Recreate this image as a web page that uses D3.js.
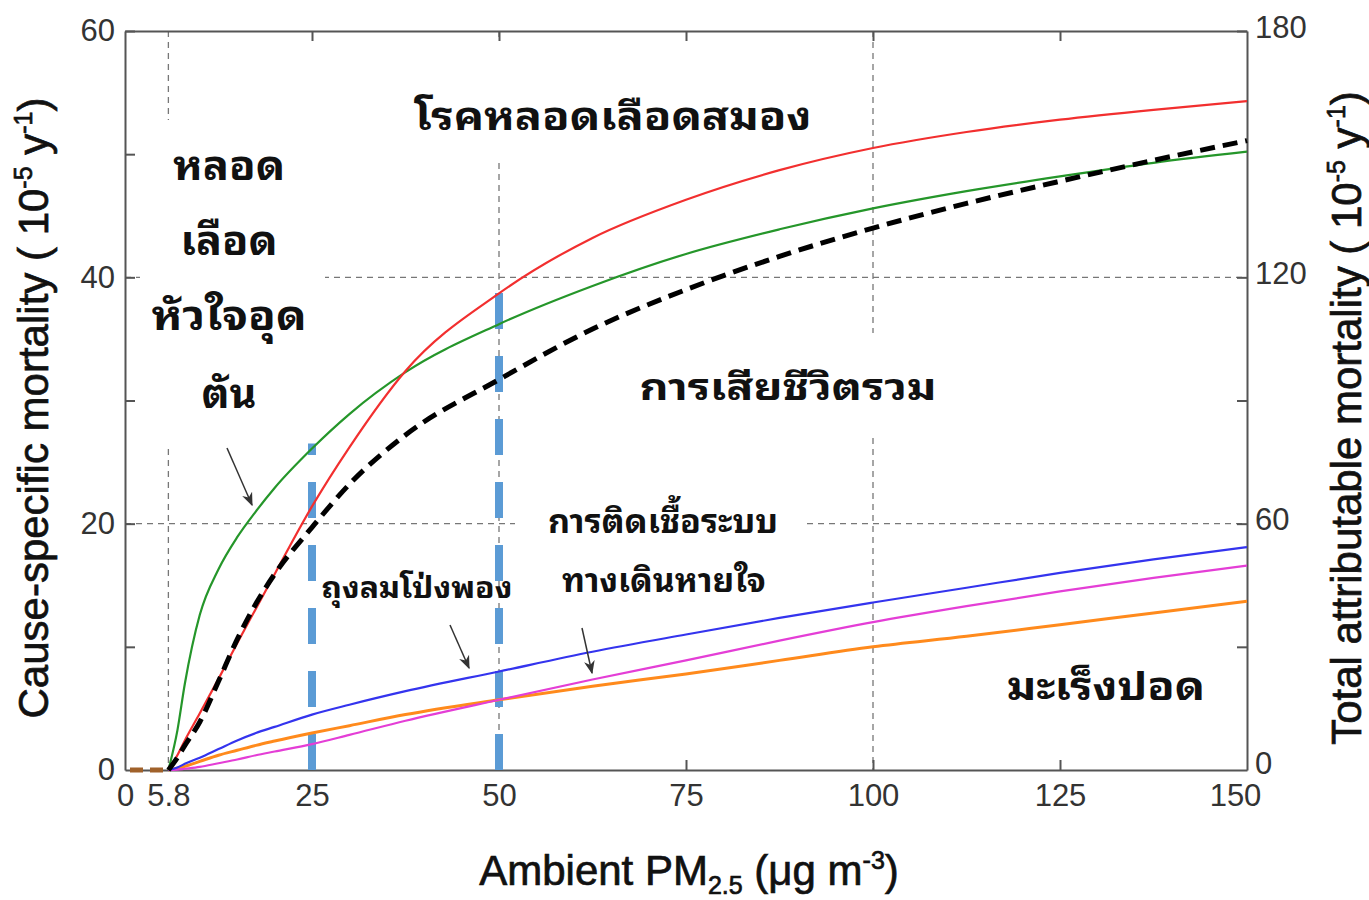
<!DOCTYPE html>
<html>
<head>
<meta charset="utf-8">
<script src="https://cdn.jsdelivr.net/npm/d3@7"></script>
<style>
  body { margin: 0; background: #fff; }
  svg { display: block; }
  .axis text { font-family: "Liberation Sans", Arial, sans-serif; font-size: 31px; fill: #333; }
  .axis path, .axis line { stroke: #555; stroke-width: 2; }
  .title { font-family: "Liberation Sans", Arial, sans-serif; font-size: 42px; fill: #111; stroke: #111; stroke-width: 0.7; }
  .thai { font-family: "Noto Sans Thai Looped", "Loma", "Noto Sans Thai", sans-serif; font-weight: bold; fill: #111; }
</style>
</head>
<body>
<svg id="chart"></svg>
<script>
// PM2.5 concentrations (ug/m3) where the curves were read
const pm = [5.8, 7, 8, 10, 12.5, 15, 17.5, 20, 25, 30, 37.5, 50, 62.5, 75, 87.5, 100, 112.5, 125, 137.5, 150];

// cause-specific mortality (10^-5 / y), left axis
const stroke = [0, 1.2, 2.4, 4.6, 7.4, 10.3, 13.1, 15.9, 21.4, 26.2, 32.4, 38.7, 43.2, 46.3, 48.7, 50.5, 51.8, 52.8, 53.6, 54.3];
const ihd    = [0, 3.2, 7.0, 12.6, 16.3, 18.9, 21.0, 22.9, 26.1, 28.9, 32.3, 36.2, 39.3, 41.9, 43.9, 45.6, 47.0, 48.2, 49.3, 50.2];
const copd   = [0, 0.2, 0.5, 1.0, 1.7, 2.4, 3.0, 3.5, 4.5, 5.3, 6.4, 8.0, 9.6, 11.0, 12.35, 13.6, 14.8, 16.0, 17.1, 18.1];
const lri    = [0, 0.03, 0.1, 0.25, 0.55, 0.85, 1.2, 1.5, 2.1, 2.85, 4.0, 5.7, 7.35, 8.9, 10.5, 12.0, 13.3, 14.5, 15.6, 16.6];
const lungCancer = [0, 0.15, 0.3, 0.7, 1.2, 1.6, 2.0, 2.35, 3.0, 3.6, 4.5, 5.7, 6.8, 7.8, 8.9, 10.0, 10.85, 11.8, 12.75, 13.7];

// total attributable mortality (10^-5 / y), right axis
const total = [0, 3.0, 6.0, 11.7, 21.6, 31.8, 40.5, 47.7, 59.1, 69.6, 81.6, 95.1, 107.4, 117.0, 125.1, 132.0, 138.0, 143.4, 148.5, 153.3];

// tick values
const xTicks = [0, 5.8, 25, 50, 75, 100, 125, 150];
const yTicks = [0, 10, 20, 30, 40, 50, 60];
const yRightTicks = [0, 30, 60, 90, 120, 150, 180];
const markedPm = [25, 50];   // thick blue guides

const width = 1369, height = 900;
const margin = { top: 31, right: 122, bottom: 130, left: 125 };

const svg = d3.select('#chart')
    .attr('width', width)
    .attr('height', height);

const x = d3.scaleLinear()
    .domain([0, 150])
    .range([margin.left, width - margin.right]);

const y = d3.scaleLinear()
    .domain([0, 60])
    .range([height - margin.bottom, margin.top]);

const yRight = d3.scaleLinear()
    .domain([0, 180])
    .range([height - margin.bottom, margin.top]);

// dashed grid
const grid = svg.append('g')
    .attr('stroke', '#777')
    .attr('stroke-width', 1.3)
    .attr('stroke-dasharray', '6,5');

[5.8, 50, 100].forEach(v => {
    grid.append('line')
        .attr('x1', x(v)).attr('x2', x(v))
        .attr('y1', y(60)).attr('y2', y(0));
});
[20, 40].forEach(v => {
    grid.append('line')
        .attr('x1', x(0)).attr('x2', x(150))
        .attr('y1', y(v)).attr('y2', y(v));
});

// white boxes behind the labels cut the grid like the original
const boxes = [
    [140, 120, 325, 446],
    [405, 40, 825, 158],
    [630, 333, 945, 433],
    [515, 495, 805, 600]
];
svg.append('g').selectAll('rect')
    .data(boxes)
    .join('rect')
    .attr('x', d => d[0]).attr('y', d => d[1])
    .attr('width', d => d[2] - d[0]).attr('height', d => d[3] - d[1])
    .attr('fill', '#fff');

// axes
const xAxisBottom = d3.axisBottom(x)
    .tickValues(xTicks)
    .tickFormat(d => d)
    .tickSizeInner(-10)
    .tickSizeOuter(0)
    .tickPadding(14);

const xAxisTop = d3.axisTop(x)
    .tickValues([25, 50, 75, 100, 125])
    .tickFormat('')
    .tickSizeInner(-10)
    .tickSizeOuter(0);

const yAxisLeft = d3.axisLeft(y)
    .tickValues(yTicks)
    .tickFormat(d => d % 20 === 0 ? d : '')
    .tickSizeInner(-10)
    .tickSizeOuter(0)
    .tickPadding(10);

const yAxisRight = d3.axisRight(yRight)
    .tickValues(yRightTicks)
    .tickFormat(d => d % 60 === 0 ? d : '')
    .tickSizeInner(-10)
    .tickSizeOuter(0)
    .tickPadding(8);

const gx = svg.append('g').attr('class', 'axis')
    .attr('transform', `translate(0,${y(0)})`)
    .call(xAxisBottom);
gx.selectAll('.tick text').filter(d => d === 150).attr('dx', -12);

svg.append('g').attr('class', 'axis')
    .attr('transform', `translate(0,${y(60)})`)
    .call(xAxisTop);

svg.append('g').attr('class', 'axis')
    .attr('transform', `translate(${x(0)},0)`)
    .call(yAxisLeft);

const gyr = svg.append('g').attr('class', 'axis')
    .attr('transform', `translate(${x(150)},0)`)
    .call(yAxisRight);
gyr.selectAll('.tick text').attr('dy', '0.2em');
gyr.selectAll('.tick text').filter(d => d === 0).attr('dy', '0.1em');

svg.selectAll('.axis .tick line').filter(d => d === 0 || d === 150 || d === 5.8).remove();

// zero segment below the threshold
svg.append('line')
    .attr('x1', x(0) + 5).attr('x2', x(5.8))
    .attr('y1', y(0)).attr('y2', y(0))
    .attr('stroke', '#a0612a')
    .attr('stroke-width', 5)
    .attr('stroke-dasharray', '13,7');

// blue thick guides at 25 and 50
const guideTop = { 25: 26.5, 50: 39.0 };
svg.append('g').selectAll('line')
    .data(markedPm)
    .join('line')
    .attr('x1', d => x(d)).attr('x2', d => x(d))
    .attr('y1', y(0)).attr('y2', d => y(guideTop[d]))
    .attr('stroke', '#5b9bd5')
    .attr('stroke-width', 8)
    .attr('stroke-dasharray', '36,27');

// curves
const line = d3.line()
    .x((d, i) => x(pm[i]))
    .y(d => y(d))
    .curve(d3.curveMonotoneX);

const lineRight = d3.line()
    .x((d, i) => x(pm[i]))
    .y(d => yRight(d))
    .curve(d3.curveMonotoneX);

const series = [
    { values: lungCancer, color: '#ff8a1c', w: 3 },
    { values: lri, color: '#e43ed6', w: 2.2 },
    { values: copd, color: '#3434ee', w: 2.2 },
    { values: ihd, color: '#25962a', w: 2.2 },
    { values: stroke, color: '#f22f2f', w: 2.2 }
];

svg.append('g').selectAll('path')
    .data(series)
    .join('path')
    .attr('d', d => line(d.values))
    .attr('fill', 'none')
    .attr('stroke', d => d.color)
    .attr('stroke-width', d => d.w);

svg.append('path')
    .attr('d', lineRight(total))
    .attr('fill', 'none')
    .attr('stroke', '#000')
    .attr('stroke-width', 5)
    .attr('stroke-dasharray', '15,8');

// Thai labels (w = width the label takes in the original)
const labels = [
    { t: 'โรคหลอดเลือดสมอง', x: 613, y: 130, s: 38, w: 397 },
    { t: 'หลอด', x: 229, y: 180, s: 41, w: 112 },
    { t: 'เลือด', x: 229, y: 255, s: 41, w: 97 },
    { t: 'หัวใจอุด', x: 229, y: 330, s: 41, w: 155 },
    { t: 'ตัน', x: 229, y: 408, s: 41, w: 55 },
    { t: 'การเสียชีวิตรวม', x: 788, y: 400, s: 37, w: 297 },
    { t: 'การติดเชื้อระบบ', x: 663, y: 533, s: 33, w: 230 },
    { t: 'ทางเดินหายใจ', x: 664, y: 592, s: 33, w: 204 },
    { t: 'ถุงลมโป่งพอง', x: 417, y: 598, s: 30, w: 191 },
    { t: 'มะเร็งปอด', x: 1106, y: 700, s: 38, w: 198 }
];

// the original Thai face is wider: stretch the glyphs to the width they take there
svg.append('g').selectAll('text')
    .data(labels)
    .join('text')
    .attr('class', 'thai')
    .attr('x', d => d.x).attr('y', d => d.y)
    .attr('text-anchor', 'middle')
    .attr('font-size', d => d.s)
    .attr('textLength', d => d.w)
    .attr('lengthAdjust', 'spacingAndGlyphs')
    .text(d => d.t);

// arrows
svg.append('defs').append('marker')
    .attr('id', 'head')
    .attr('viewBox', '0 0 10 10')
    .attr('refX', 9).attr('refY', 5)
    .attr('markerWidth', 9).attr('markerHeight', 9)
    .attr('orient', 'auto')
    .append('path')
    .attr('d', 'M0,1 L10,5 L0,9 L3,5 Z')
    .attr('fill', '#333');

const arrows = [
    [227, 448, 252, 505],
    [450, 625, 469, 668],
    [582, 628, 592, 673]
];
svg.append('g').selectAll('line')
    .data(arrows)
    .join('line')
    .attr('x1', d => d[0]).attr('y1', d => d[1])
    .attr('x2', d => d[2]).attr('y2', d => d[3])
    .attr('stroke', '#333')
    .attr('stroke-width', 1.5)
    .attr('marker-end', 'url(#head)');

// axis titles
function unitTitle(sel, label) {
    sel.append('tspan').text(label + ' ( 10');
    sel.append('tspan').attr('dy', -16).attr('font-size', 25).text('-5');
    sel.append('tspan').attr('dy', 16).text(' y');
    sel.append('tspan').attr('dy', -16).attr('font-size', 25).text('-1');
    sel.append('tspan').attr('dy', 16).text(')');
}

unitTitle(svg.append('text')
    .attr('class', 'title')
    .attr('transform', 'translate(48,408) rotate(-90)')
    .attr('text-anchor', 'middle'), 'Cause-specific mortality');

unitTitle(svg.append('text')
    .attr('class', 'title')
    .attr('transform', 'translate(1361,418) rotate(-90)')
    .attr('text-anchor', 'middle'), 'Total attributable mortality');

const bottomTitle = svg.append('text')
    .attr('class', 'title')
    .attr('x', 689).attr('y', 885)
    .attr('text-anchor', 'middle');
bottomTitle.append('tspan').text('Ambient PM');
bottomTitle.append('tspan').attr('dy', 9).attr('font-size', 25).text('2.5');
bottomTitle.append('tspan').attr('dy', -9).text(' (μg m');
bottomTitle.append('tspan').attr('dy', -16).attr('font-size', 25).text('-3');
bottomTitle.append('tspan').attr('dy', 16).text(')');
</script>
</body>
</html>
